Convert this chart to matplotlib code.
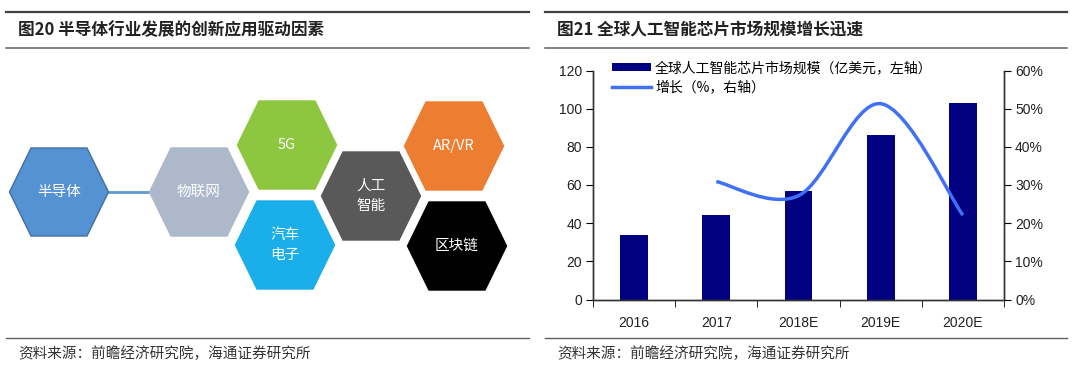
import numpy as np
import matplotlib.pyplot as plt
from matplotlib.patches import Polygon, PathPatch
from matplotlib.path import Path

plt.rcParams['font.family'] = ['Noto Sans CJK SC', 'DejaVu Sans']

# left panel: hexagon labels, colours and centres (pixels)
hex_labels = ['半导体', '物联网', '5G', '汽车\n电子', '人工\n智能', 'AR/VR', '区块链']
hex_colors = ['#5592D3', '#ADB9CA', '#8DC63F', '#1AAEEA', '#595959', '#ED7D31', '#000000']
hex_x = [59, 199, 287, 285, 371, 454, 457]
hex_y = [192, 192, 145, 245, 196, 146, 246]

# right panel data
years = ['2016', '2017', '2018E', '2019E', '2020E']
market = [34, 44.5, 57, 86, 103]
growth = [np.nan, 30.9, 27.2, 51.3, 22.1]

W, H = 1080, 378
fig = plt.figure(figsize=(W / 100, H / 100), dpi=100)

# background axes in pixel coordinates for the diagram and frame text
bg = fig.add_axes([0, 0, 1, 1])
bg.set_xlim(0, W)
bg.set_ylim(H, 0)
bg.axis('off')

for x0, x1 in [(6, 529), (545, 1067)]:
    bg.plot([x0, x1], [12, 12], color='#404040', lw=1.6)
    bg.plot([x0, x1], [48, 48], color='#606060', lw=1.1)
    bg.plot([x0, x1], [338, 338], color='#606060', lw=1.0)

bg.text(18, 30, '图20 半导体行业发展的创新应用驱动因素', fontsize=12, fontweight='bold',
        va='center', color='#222222')
bg.text(557, 30, '图21 全球人工智能芯片市场规模增长迅速', fontsize=12, fontweight='bold',
        va='center', color='#222222')
bg.text(18, 354, '资料来源：前瞻经济研究院，海通证券研究所', fontsize=10.5,
        va='center', color='#333333')
bg.text(557, 354, '资料来源：前瞻经济研究院，海通证券研究所', fontsize=10.5,
        va='center', color='#333333')

# connector between first two hexagons
bg.plot([hex_x[0], hex_x[1]], [hex_y[0], hex_y[1]], color='#5B9BD5', lw=2, zorder=1)

hw, hh, ha = 49.5, 44, 28
for lab, c, cx, cy in zip(hex_labels, hex_colors, hex_x, hex_y):
    pts = [(cx - hw, cy), (cx - ha, cy - hh), (cx + ha, cy - hh),
           (cx + hw, cy), (cx + ha, cy + hh), (cx - ha, cy + hh)]
    ec = '#41719C' if lab == '半导体' else c
    bg.add_patch(Polygon(pts, closed=True, fc=c, ec=ec, lw=1, zorder=2))
    bg.text(cx, cy, lab, color='white', fontsize=10.5, ha='center', va='center',
            linespacing=1.6, zorder=3)

# right chart
ax = fig.add_axes([593 / W, 1 - 299.5 / H, (1004 - 593) / W, (299.5 - 70.5) / H])
ax2 = ax.twinx()
xs = np.arange(len(years))
bars = ax.bar(xs, market, width=0.34, color='#000080', label='全球人工智能芯片市场规模（亿美元，左轴）')

ax.set_xlim(-0.5, len(years) - 0.5)
ax.set_ylim(0, 120)
ax.set_yticks(range(0, 121, 20))
ax2.set_ylim(0, 0.6)
ax2.set_yticks(np.arange(0, 0.61, 0.1))
ax2.set_yticklabels([f'{int(round(v * 100))}%' for v in np.arange(0, 0.61, 0.1)])

ax.set_xticks(xs)
ax.set_xticklabels(years)
ax.set_xticks(np.arange(-0.5, len(years), 1), minor=True)
ax.tick_params(axis='x', which='major', length=0, pad=12)
ax.tick_params(axis='x', which='minor', length=5, direction='out')
ax.tick_params(axis='y', length=5, direction='out', pad=3)
ax2.tick_params(axis='y', length=5, direction='out', pad=3)

for a in (ax, ax2):
    a.spines['top'].set_visible(False)
    for s in a.spines.values():
        s.set_linewidth(1.0)
        s.set_color('#333333')
    for t in a.get_xticklabels() + a.get_yticklabels():
        t.set_fontfamily(['Liberation Sans', 'DejaVu Sans'])
        t.set_fontsize(10)
        t.set_color('#222222')

# smoothed growth line (bezier through the data points)
gx = [x for x, g in zip(xs, growth) if not np.isnan(g)]
gy = [g / 100 for g in growth if not np.isnan(g)]
verts = [(gx[0], gy[0])]
codes = [Path.MOVETO]
n = len(gx)
for i in range(n - 1):
    p0 = np.array((gx[max(i - 1, 0)], gy[max(i - 1, 0)]))
    p1 = np.array((gx[i], gy[i]))
    p2 = np.array((gx[i + 1], gy[i + 1]))
    p3 = np.array((gx[min(i + 2, n - 1)], gy[min(i + 2, n - 1)]))
    c1 = p1 + (p2 - p0) / 6
    c2 = p2 - (p3 - p1) / 6
    verts += [tuple(c1), tuple(c2), tuple(p2)]
    codes += [Path.CURVE4] * 3
ax2.add_patch(PathPatch(Path(verts, codes), fc='none', ec='#4070F4', lw=2.5,
                        capstyle='butt'))
line_handle = plt.Line2D([], [], color='#4070F4', lw=2.5, label='增长（%，右轴）')

fig.legend(handles=[bars, line_handle], loc='upper left',
           bbox_to_anchor=(612 / W, 1 - 61 / H), frameon=False, fontsize=10,
           handlelength=2.8, handleheight=0.45, handletextpad=0.3,
           labelspacing=0.35, borderpad=0, borderaxespad=0)

fig.savefig('out.png', dpi=100)
